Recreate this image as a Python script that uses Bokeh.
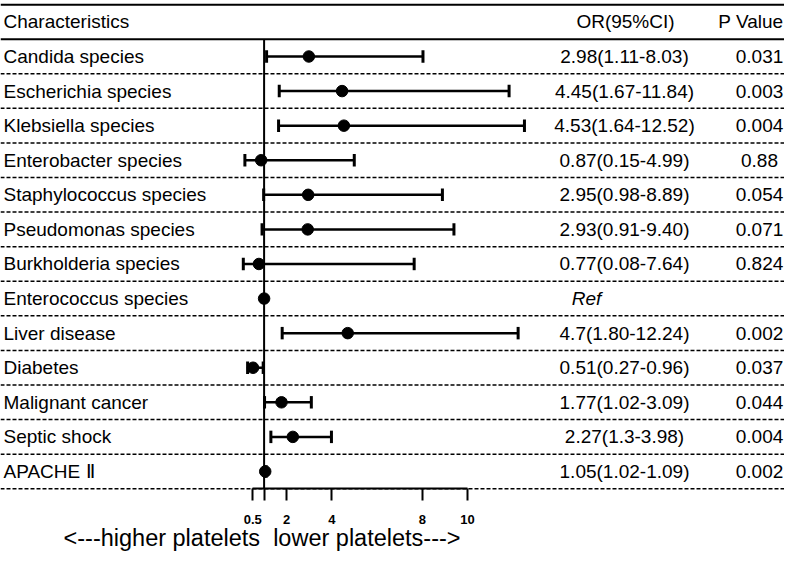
from bokeh.plotting import figure
from bokeh.models import Range1d, LinearAxis, FixedTicker, ColumnDataSource
from bokeh.core.properties import value
from bokeh.embed import file_html
from bokeh.resources import INLINE

# ---------------- data ----------------
labels = ["Candida species", "Escherichia species", "Klebsiella species",
          "Enterobacter species", "Staphylococcus species", "Pseudomonas species",
          "Burkholderia species", "Enterococcus species", "Liver disease",
          "Diabetes", "Malignant cancer", "Septic shock", "APACHE \u2161"]
odds = [2.98, 4.45, 4.53, 0.87, 2.95, 2.93, 0.77, 1.0, 4.7, 0.51, 1.77, 2.27, 1.05]
ci_low = [1.11, 1.67, 1.64, 0.15, 0.98, 0.91, 0.08, None, 1.80, 0.27, 1.02, 1.3, 1.02]
ci_high = [8.03, 11.84, 12.52, 4.99, 8.89, 9.40, 7.64, None, 12.24, 0.96, 3.09, 3.98, 1.09]
or_text = ["2.98(1.11-8.03)", "4.45(1.67-11.84)", "4.53(1.64-12.52)", "0.87(0.15-4.99)",
           "2.95(0.98-8.89)", "2.93(0.91-9.40)", "0.77(0.08-7.64)", "Ref",
           "4.7(1.80-12.24)", "0.51(0.27-0.96)", "1.77(1.02-3.09)", "2.27(1.3-3.98)",
           "1.05(1.02-1.09)"]
p_text = ["0.031", "0.003", "0.004", "0.88", "0.054", "0.071", "0.824", "",
          "0.002", "0.037", "0.044", "0.004", "0.002"]
tick_values = [0.5, 1, 2, 4, 8, 10]
tick_text = ["0.5", "", "2", "4", "8", "10"]
headers = ["Characteristics", "OR(95%CI)", "P Value"]
caption = "<---higher platelets \u00a0lower platelets--->"
ref_value = 1

# ---------------- layout constants ----------------
FONT = "Liberation Sans"
PX_PER_UNIT = 22.6
ZERO_PX = 241.0       # canvas x of OR = 0
ROW0_PX = 56.0        # canvas y of first row
ROW_PX = 34.58
W, H = 784, 551

x_start = (0 - ZERO_PX) / PX_PER_UNIT
x_end = (W - ZERO_PX) / PX_PER_UNIT
y_top = (0 - ROW0_PX) / ROW_PX
y_bot = (H - ROW0_PX) / ROW_PX

def xpos(px):
    return (px - ZERO_PX) / PX_PER_UNIT

def ypos(py):
    return (py - ROW0_PX) / ROW_PX

p = figure(width=W, height=H, output_backend="svg", toolbar_location=None,
           x_range=Range1d(x_start, x_end), y_range=Range1d(y_bot, y_top),
           x_axis_type=None, y_axis_type=None,
           min_border_left=0, min_border_right=0, min_border_top=0,
           min_border_bottom=0)
p.outline_line_color = None
p.xgrid.visible = False
p.ygrid.visible = False
p.background_fill_color = "white"
p.border_fill_color = "white"

n = len(labels)
rows = list(range(n))
last_rule = n - 0.5

# horizontal rules
p.segment(x0=[x_start] * n, x1=[x_end] * n, y0=[r + 0.5 for r in rows],
          y1=[r + 0.5 for r in rows], line_color="black", line_width=1.5,
          line_dash="4 2")
p.segment(x0=[x_start, x_start], x1=[x_end, x_end], y0=[-1.5, -0.5],
          y1=[-1.5, -0.5], line_color="black", line_width=2)

# reference line
p.segment(x0=[ref_value], x1=[ref_value], y0=[-0.5], y1=[last_rule],
          line_color="black", line_width=2)

# CIs
ci_rows = [r for r in rows if ci_low[r] is not None]
ci_src = ColumnDataSource(dict(
    y=ci_rows, lo=[ci_low[r] for r in ci_rows], hi=[ci_high[r] for r in ci_rows],
    yb=[r - 0.18 for r in ci_rows], yt=[r + 0.18 for r in ci_rows]))
p.segment(x0="lo", x1="hi", y0="y", y1="y", source=ci_src, line_color="black",
          line_width=2.5)
p.segment(x0="lo", x1="lo", y0="yb", y1="yt", source=ci_src, line_color="black",
          line_width=3)
p.segment(x0="hi", x1="hi", y0="yb", y1="yt", source=ci_src, line_color="black",
          line_width=3)

# points
p.scatter(x=odds, y=rows, marker="circle", size=11.5, fill_color="black",
          line_color="black")

# texts
txt = dict(text_font=value(FONT), text_font_size="19px", text_color="black",
           text_baseline="middle")
p.text(x=[xpos(3)] * n, y=rows, text=labels, text_align="left", **txt)
p.text(x=[xpos(3), xpos(625), xpos(783)], y=[-1, -1, -1], text=headers,
       text_align=["left", "center", "right"], **txt)
or_rows = [r for r in rows if or_text[r] != "Ref"]
p.text(x=[xpos(624)] * len(or_rows), y=or_rows, text=[or_text[r] for r in or_rows],
       text_align="center", **txt)
ref_rows = [r for r in rows if or_text[r] == "Ref"]
p.text(x=[xpos(586)] * len(ref_rows), y=ref_rows, text=[or_text[r] for r in ref_rows],
       text_align="center", text_font_style="italic", **txt)
p.text(x=[xpos(759)] * n, y=rows, text=p_text, text_align="center", **txt)

# axis drawn at the last rule
ax = LinearAxis(ticker=FixedTicker(ticks=tick_values),
                major_label_overrides={v: t for v, t in zip(tick_values, tick_text)},
                bounds=(tick_values[0], tick_values[-1]),
                fixed_location=last_rule)
ax.axis_line_width = 2
ax.major_tick_line_width = 2
ax.major_tick_out = 12
ax.major_tick_in = 0
ax.minor_tick_line_color = None
ax.major_label_standoff = 14
ax.major_label_text_font = FONT
ax.major_label_text_font_style = "bold"
ax.major_label_text_font_size = "13px"
ax.major_label_text_color = "black"
p.add_layout(ax, "below")

# caption
p.text(x=[xpos(63)], y=[ypos(537)], text=[caption], text_align="left",
       text_baseline="middle", text_font=value(FONT), text_font_size="23.5px",
       text_color="black")

open("out.html", "w").write(file_html(p, INLINE))
